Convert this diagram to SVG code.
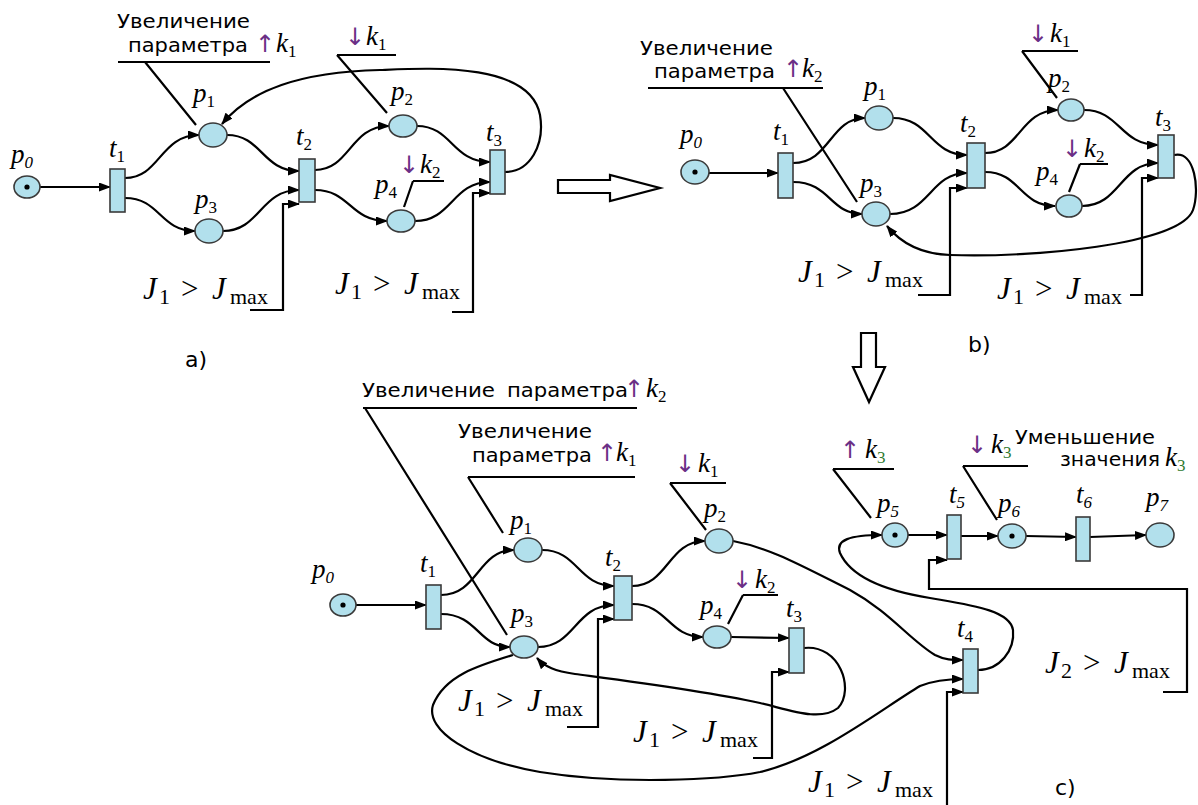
<svg xmlns="http://www.w3.org/2000/svg" width="1198" height="805" viewBox="0 0 1198 805">
<defs>
<marker id="ah" markerUnits="userSpaceOnUse" markerWidth="12" markerHeight="9" refX="11" refY="4.5" orient="auto"><path d="M0,0 L12,4.5 L0,9 z" fill="#000"/></marker>
<style>
.pl{fill:#b2e0ec;stroke:#3a3a3a;stroke-width:1.6}
.tr{fill:#b2e0ec;stroke:#3a3a3a;stroke-width:1.6}
.tk{fill:#000}
.c{fill:none;stroke:#000;stroke-width:2.2}
.ca{fill:none;stroke:#000;stroke-width:2.2;marker-end:url(#ah)}
.pt{fill:none;stroke:#000;stroke-width:2.2}
.big{fill:#fff;stroke:#000;stroke-width:2.2}
.lb{font-family:"Liberation Serif",serif;font-style:italic;font-size:27px;fill:#000}
.sb{font-family:"Liberation Serif",serif;font-style:normal;font-size:17px}
.si{font-family:"Liberation Serif",serif;font-style:italic;font-size:17px}
.ru{font-family:"DejaVu Sans",sans-serif;font-size:19px;fill:#000}
.ar{font-family:"DejaVu Sans",sans-serif;font-style:normal;font-size:24px;fill:#6b2f86}
.J{font-family:"Liberation Serif",serif;font-style:italic;font-size:31px;fill:#000}
.n{font-style:normal}
.Js{font-family:"Liberation Serif",serif;font-style:normal;font-size:22px}
.pn{font-family:"DejaVu Sans",sans-serif;font-size:22px;fill:#000}
.g3{fill:#2f7a2f}
</style>
</defs>
<rect width="1198" height="805" fill="#fff"/>

<!-- ================= Panel a ================= -->
<g id="a-connectors">
<path class="ca" d="M40,187 L110,187"/>
<path class="ca" d="M125,178 C160,178 160,135 199,135"/>
<path class="ca" d="M125,198 C160,198 160,231 195,231"/>
<path class="ca" d="M227,135 C262,135 262,171 299,171"/>
<path class="ca" d="M223,231 C260,231 260,190 299,190"/>
<path class="ca" d="M250,310 L283,310 L283,204 L299,204"/>
<path class="ca" d="M315,170 C350,170 350,126 389,126"/>
<path class="ca" d="M315,190 C350,190 350,221 387,221"/>
<path class="ca" d="M417,126 C452,126 452,162 490,162"/>
<path class="ca" d="M415,221 C452,221 452,182 490,182"/>
<path class="ca" d="M452,312 L473,312 L473,193 L490,193"/>
<path class="ca" d="M505,172 C530,172 545,145 540,115 C530,62 430,68 380,70 C300,72 250,90 222,124"/>
<path class="pt" d="M118,62 L270,62 M145,62 L196,125"/>
<path class="pt" d="M337,55 L396,55 M337,55 L387,113"/>
<path class="pt" d="M413,181 L444,181 M413,181 L404,207"/>
</g>
<g id="a-p0"><ellipse class="pl" cx="27" cy="187" rx="13" ry="11"/><circle class="tk" cx="27" cy="187" r="2.6"/><text class="lb" x="11" y="163">p<tspan class="si" dy="5">0</tspan></text></g>
<g id="a-t1"><rect class="tr" x="110" y="169" width="15" height="43"/><text class="lb" x="109" y="157">t<tspan class="sb" dy="5">1</tspan></text></g>
<g id="a-p1"><ellipse class="pl" cx="213" cy="135" rx="14" ry="12"/><text class="lb" x="193" y="102">p<tspan class="sb" dy="5">1</tspan></text></g>
<g id="a-p3"><ellipse class="pl" cx="209" cy="231" rx="14" ry="12"/><text class="lb" x="195" y="208">p<tspan class="sb" dy="5">3</tspan></text></g>
<g id="a-t2"><rect class="tr" x="299" y="159" width="16" height="43"/><text class="lb" x="296" y="145">t<tspan class="sb" dy="5">2</tspan></text></g>
<g id="a-p2"><ellipse class="pl" cx="403" cy="126" rx="14" ry="11"/><text class="lb" x="391" y="100">p<tspan class="sb" dy="5">2</tspan></text></g>
<g id="a-p4"><ellipse class="pl" cx="401" cy="221" rx="14" ry="11"/><text class="lb" x="375" y="193">p<tspan class="sb" dy="5">4</tspan></text></g>
<g id="a-t3"><rect class="tr" x="490" y="150" width="15" height="44"/><text class="lb" x="486" y="141">t<tspan class="sb" dy="5">3</tspan></text></g>
<g id="a-labels">
<text class="ru" x="117" y="28" textLength="133" lengthAdjust="spacingAndGlyphs">Увеличение</text>
<text class="ru" x="128" y="52" textLength="120" lengthAdjust="spacingAndGlyphs">параметра</text>
<text class="lb" x="255" y="52"><tspan class="ar">↑</tspan><tspan x="276">k</tspan><tspan class="sb" dy="5">1</tspan></text>
<text class="lb" x="345" y="45"><tspan class="ar">↓</tspan><tspan x="366">k</tspan><tspan class="sb" dy="5">1</tspan></text>
<text class="lb" x="399" y="173"><tspan class="ar">↓</tspan><tspan x="420">k</tspan><tspan class="sb" dy="5">2</tspan></text>
<text class="J" x="143" y="299">J<tspan class="Js" x="159" dy="5">1</tspan><tspan class="n" x="181" dy="-5">&gt;</tspan><tspan x="212">J</tspan><tspan class="Js" x="230" dy="5">max</tspan></text>
<text class="J" x="335" y="294">J<tspan class="Js" x="351" dy="5">1</tspan><tspan class="n" x="373" dy="-5">&gt;</tspan><tspan x="404">J</tspan><tspan class="Js" x="422" dy="5">max</tspan></text>
<text class="pn" x="185" y="367">a)</text>
</g>

<!-- big arrows -->
<g id="arrow-right"><polygon class="big" points="558,180 610,180 610,175 660,188 610,201 610,193 558,193"/></g>
<g id="arrow-down"><polygon class="big" points="861,333 876,333 876,367 885,367 869,402 853,367 861,367"/></g>

<!-- ================= Panel b ================= -->
<g id="b-connectors">
<path class="ca" d="M709,173 L778,173"/>
<path class="ca" d="M793,163 C830,163 830,118 865,118"/>
<path class="ca" d="M793,182 C830,182 830,214 862,214"/>
<path class="ca" d="M893,118 C930,118 930,155 967,155"/>
<path class="ca" d="M890,214 C930,214 930,173 967,173"/>
<path class="ca" d="M918,295 L950,295 L950,188 L967,188"/>
<path class="ca" d="M985,153 C1020,153 1020,110 1058,110"/>
<path class="ca" d="M985,172 C1020,172 1020,206 1055,206"/>
<path class="ca" d="M1084,110 C1120,110 1120,145 1158,145"/>
<path class="ca" d="M1082,206 C1120,206 1120,163 1158,163"/>
<path class="ca" d="M1130,295 L1142,295 L1142,178 L1158,178"/>
<path class="ca" d="M1174,155 C1195,150 1200,190 1193,210 C1180,245 1030,258 950,255 C920,254 900,242 887,226"/>
<path class="pt" d="M648,88 L823,88 M783,88 L857,202"/>
<path class="pt" d="M1022,51 L1078,51 M1022,51 L1057,98"/>
<path class="pt" d="M1080,164 L1108,164 M1080,164 L1069,192"/>
</g>
<g id="b-p0"><ellipse class="pl" cx="695" cy="172" rx="14" ry="12"/><circle class="tk" cx="695" cy="172" r="2.6"/><text class="lb" x="680" y="143">p<tspan class="si" dy="5">0</tspan></text></g>
<g id="b-t1"><rect class="tr" x="778" y="153" width="15" height="45"/><text class="lb" x="773" y="140">t<tspan class="sb" dy="5">1</tspan></text></g>
<g id="b-p1"><ellipse class="pl" cx="879" cy="118" rx="14" ry="12"/><text class="lb" x="864" y="95">p<tspan class="sb" dy="5">1</tspan></text></g>
<g id="b-p3"><ellipse class="pl" cx="876" cy="214" rx="14" ry="12"/><text class="lb" x="860" y="192">p<tspan class="sb" dy="5">3</tspan></text></g>
<g id="b-t2"><rect class="tr" x="967" y="143" width="18" height="45"/><text class="lb" x="960" y="132">t<tspan class="sb" dy="5">2</tspan></text></g>
<g id="b-p2"><ellipse class="pl" cx="1071" cy="110" rx="13" ry="11"/><text class="lb" x="1048" y="87">p<tspan class="sb" dy="5">2</tspan></text></g>
<g id="b-p4"><ellipse class="pl" cx="1069" cy="206" rx="13" ry="11"/><text class="lb" x="1036" y="180">p<tspan class="sb" dy="5">4</tspan></text></g>
<g id="b-t3"><rect class="tr" x="1158" y="135" width="16" height="43"/><text class="lb" x="1155" y="126">t<tspan class="sb" dy="5">3</tspan></text></g>
<g id="b-labels">
<text class="ru" x="640" y="55" textLength="133" lengthAdjust="spacingAndGlyphs">Увеличение</text>
<text class="ru" x="654" y="78" textLength="121" lengthAdjust="spacingAndGlyphs">параметра</text>
<text class="lb" x="783" y="77"><tspan class="ar">↑</tspan><tspan x="802">k</tspan><tspan class="sb" dy="5">2</tspan></text>
<text class="lb" x="1028" y="42"><tspan class="ar">↓</tspan><tspan x="1050">k</tspan><tspan class="sb" dy="5">1</tspan></text>
<text class="lb" x="1062" y="157"><tspan class="ar">↓</tspan><tspan x="1084">k</tspan><tspan class="sb" dy="5">2</tspan></text>
<text class="J" x="798" y="282">J<tspan class="Js" x="814" dy="5">1</tspan><tspan class="n" x="836" dy="-5">&gt;</tspan><tspan x="867">J</tspan><tspan class="Js" x="885" dy="5">max</tspan></text>
<text class="J" x="997" y="299">J<tspan class="Js" x="1013" dy="5">1</tspan><tspan class="n" x="1035" dy="-5">&gt;</tspan><tspan x="1066">J</tspan><tspan class="Js" x="1084" dy="5">max</tspan></text>
<text class="pn" x="968" y="352">b)</text>
</g>

<!-- ================= Panel c ================= -->
<g id="c-connectors">
<path class="ca" d="M356,605 L426,605"/>
<path class="ca" d="M441,595 C478,595 478,550 514,550"/>
<path class="ca" d="M441,614 C478,614 478,647 510,647"/>
<path class="ca" d="M542,550 C578,550 578,586 614,586"/>
<path class="ca" d="M538,647 C575,647 575,605 614,605"/>
<path class="ca" d="M567,727 L598,727 L598,619 L614,619"/>
<path class="ca" d="M632,586 C668,586 668,541 705,541"/>
<path class="ca" d="M632,604 C668,604 668,637 703,637"/>
<path class="ca" d="M731,637 L789,638"/>
<path class="ca" d="M753,758 L772,758 L772,672 L789,672"/>
<path class="ca" d="M804,648 C840,644 855,690 838,708 C820,722 790,710 760,703 C700,690 620,680 575,674 C555,671 545,667 537,658"/>
<path class="ca" d="M513,655 C480,665 445,675 433,705 C425,730 470,760 540,772 C620,785 720,780 760,772 C820,758 880,710 920,686 C935,680 950,679 963,679"/>
<path class="ca" d="M733,541 C770,548 800,565 850,590 C890,612 910,640 935,655 C945,660 952,660 963,660"/>
<path class="ca" d="M978,670 C1000,670 1015,650 1013,630 C1010,610 970,605 930,598 C880,590 850,575 840,553 C835,540 850,535 882,535"/>
<path class="ca" d="M947,805 L947,692 L963,692"/>
<path class="ca" d="M908,535 L947,535"/>
<path class="ca" d="M1163,692 L1187,692 L1187,589 L929,589 L929,560 L947,560"/>
<path class="ca" d="M961,536 L998,536"/>
<path class="ca" d="M1026,536 L1076,537"/>
<path class="ca" d="M1090,537 L1146,535"/>
<path class="pt" d="M363,408 L637,408 M365,408 L507,635"/>
<path class="pt" d="M468,477 L635,477 M468,477 L503,533"/>
<path class="pt" d="M670,483 L726,483 M670,483 L706,530"/>
<path class="pt" d="M743,595 L778,595 M743,595 L728,624"/>
<path class="pt" d="M833,469 L894,469 M833,469 L871,518"/>
<path class="pt" d="M963,466 L1028,466 M963,466 L997,520"/>
</g>
<g id="c-p0"><ellipse class="pl" cx="343" cy="605" rx="13" ry="11"/><circle class="tk" cx="343" cy="605" r="2.6"/><text class="lb" x="312" y="578">p<tspan class="si" dy="5">0</tspan></text></g>
<g id="c-t1"><rect class="tr" x="426" y="585" width="15" height="44"/><text class="lb" x="420" y="572">t<tspan class="sb" dy="5">1</tspan></text></g>
<g id="c-p1"><ellipse class="pl" cx="528" cy="550" rx="14" ry="12"/><text class="lb" x="510" y="529">p<tspan class="sb" dy="5">1</tspan></text></g>
<g id="c-p3"><ellipse class="pl" cx="524" cy="647" rx="14" ry="11"/><text class="lb" x="511" y="622">p<tspan class="sb" dy="5">3</tspan></text></g>
<g id="c-t2"><rect class="tr" x="614" y="576" width="18" height="44"/><text class="lb" x="605" y="566">t<tspan class="sb" dy="5">2</tspan></text></g>
<g id="c-p2"><ellipse class="pl" cx="719" cy="541" rx="14" ry="12"/><text class="lb" x="704" y="517">p<tspan class="sb" dy="5">2</tspan></text></g>
<g id="c-p4"><ellipse class="pl" cx="717" cy="637" rx="14" ry="11"/><text class="lb" x="700" y="614">p<tspan class="sb" dy="5">4</tspan></text></g>
<g id="c-t3"><rect class="tr" x="789" y="628" width="15" height="45"/><text class="lb" x="786" y="617">t<tspan class="sb" dy="5">3</tspan></text></g>
<g id="c-t4"><rect class="tr" x="963" y="649" width="15" height="44"/><text class="lb" x="957" y="637">t<tspan class="sb" dy="5">4</tspan></text></g>
<g id="c-p5"><ellipse class="pl" cx="895" cy="535" rx="13" ry="12"/><circle class="tk" cx="895" cy="535" r="2.6"/><text class="lb" x="877" y="512">p<tspan class="si" dy="5">5</tspan></text></g>
<g id="c-t5"><rect class="tr" x="947" y="515" width="14" height="44"/><text class="lb" x="949" y="503">t<tspan class="si" dy="5">5</tspan></text></g>
<g id="c-p6"><ellipse class="pl" cx="1012" cy="536" rx="14" ry="12"/><circle class="tk" cx="1012" cy="536" r="2.6"/><text class="lb" x="998" y="512">p<tspan class="si" dy="5">6</tspan></text></g>
<g id="c-t6"><rect class="tr" x="1076" y="517" width="14" height="44"/><text class="lb" x="1076" y="503">t<tspan class="si" dy="5">6</tspan></text></g>
<g id="c-p7"><ellipse class="pl" cx="1160" cy="535" rx="14" ry="12"/><text class="lb" x="1146" y="506">p<tspan class="si" dy="5">7</tspan></text></g>
<g id="c-labels">
<text class="ru" x="362" y="397" textLength="133" lengthAdjust="spacingAndGlyphs">Увеличение</text>
<text class="ru" x="507" y="397" textLength="121" lengthAdjust="spacingAndGlyphs">параметра</text>
<text class="lb" x="624" y="397"><tspan class="ar">↑</tspan><tspan x="646">k</tspan><tspan class="sb" dy="5">2</tspan></text>
<text class="ru" x="458" y="438" textLength="134" lengthAdjust="spacingAndGlyphs">Увеличение</text>
<text class="ru" x="472" y="462" textLength="120" lengthAdjust="spacingAndGlyphs">параметра</text>
<text class="lb" x="597" y="461"><tspan class="ar">↑</tspan><tspan x="616">k</tspan><tspan class="sb" dy="5">1</tspan></text>
<text class="lb" x="675" y="472"><tspan class="ar">↓</tspan><tspan x="698">k</tspan><tspan class="sb" dy="5">1</tspan></text>
<text class="lb" x="732" y="588"><tspan class="ar">↓</tspan><tspan x="755">k</tspan><tspan class="sb" dy="5">2</tspan></text>
<text class="lb" x="840" y="458"><tspan class="ar">↑</tspan><tspan x="865">k</tspan><tspan class="sb g3" dy="5">3</tspan></text>
<text class="lb" x="967" y="453"><tspan class="ar">↓</tspan><tspan x="991">k</tspan><tspan class="sb g3" dy="5">3</tspan></text>
<text class="ru" x="1015" y="444" textLength="140" lengthAdjust="spacingAndGlyphs">Уменьшение</text>
<text class="ru" x="1060" y="466" textLength="100" lengthAdjust="spacingAndGlyphs">значения</text>
<text class="lb" x="1165" y="466">k<tspan class="sb g3" dy="5">3</tspan></text>
<text class="J" x="458" y="711">J<tspan class="Js" x="474" dy="5">1</tspan><tspan class="n" x="496" dy="-5">&gt;</tspan><tspan x="527">J</tspan><tspan class="Js" x="545" dy="5">max</tspan></text>
<text class="J" x="633" y="742">J<tspan class="Js" x="649" dy="5">1</tspan><tspan class="n" x="671" dy="-5">&gt;</tspan><tspan x="702">J</tspan><tspan class="Js" x="720" dy="5">max</tspan></text>
<text class="J" x="808" y="792">J<tspan class="Js" x="824" dy="5">1</tspan><tspan class="n" x="846" dy="-5">&gt;</tspan><tspan x="877">J</tspan><tspan class="Js" x="895" dy="5">max</tspan></text>
<text class="J" x="1045" y="673">J<tspan class="Js" x="1061" dy="5">2</tspan><tspan class="n" x="1083" dy="-5">&gt;</tspan><tspan x="1114">J</tspan><tspan class="Js" x="1132" dy="5">max</tspan></text>
<text class="pn" x="1055" y="795">c)</text>
</g>
</svg>
